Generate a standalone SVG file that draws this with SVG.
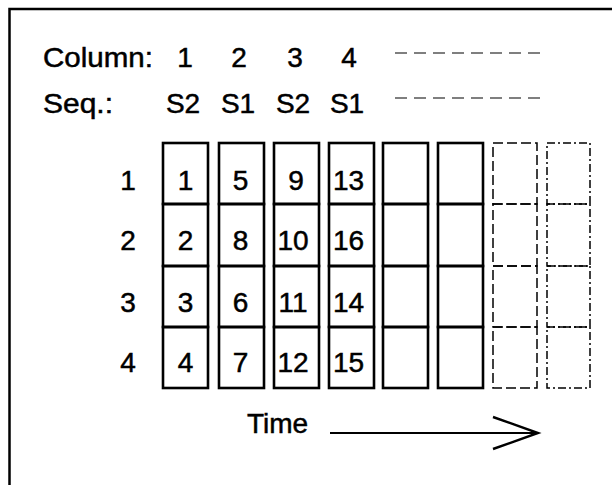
<svg xmlns="http://www.w3.org/2000/svg" width="612" height="485" viewBox="0 0 612 485">
<style>
text{font-family:"Liberation Sans",Arial,sans-serif;font-size:28px;fill:#000;stroke:#000;stroke-width:0.5}
.c{text-anchor:middle}
.cell{fill:none;stroke:#000;stroke-width:2.6}
.dash{fill:none;stroke:#000;stroke-width:1.5;stroke-dasharray:10 4}
.dashdot{fill:none;stroke:#000;stroke-width:1.5;stroke-dasharray:8 3 2 3}
.hd{stroke:#000;stroke-width:1.2;stroke-dasharray:12 7}
</style>
<rect width="612" height="485" fill="#fff"/>
<path d="M9.5 490 V9 H620" fill="none" stroke="#000" stroke-width="2.5"/>
<g id="header">
<text x="43" y="67" textLength="110" lengthAdjust="spacingAndGlyphs">Column:</text>
<text class="c" x="185" y="67">1</text>
<text class="c" x="239" y="67">2</text>
<text class="c" x="295" y="67">3</text>
<text class="c" x="349" y="67">4</text>
<line class="hd" x1="395" y1="53" x2="546" y2="53"/>
<text x="43" y="113" textLength="70" lengthAdjust="spacingAndGlyphs">Seq.:</text>
<text class="c" x="183" y="113">S2</text>
<text class="c" x="238" y="113">S1</text>
<text class="c" x="293" y="113">S2</text>
<text class="c" x="347" y="113">S1</text>
<line class="hd" x1="395" y1="98" x2="546" y2="98"/>
</g>
<g id="row-labels">
<text class="c" x="128" y="190">1</text>
<text class="c" x="128" y="250">2</text>
<text class="c" x="128" y="312">3</text>
<text class="c" x="128" y="372">4</text>
</g>
<g id="col1">
<rect class="cell" x="163" y="143" width="45" height="61"/>
<rect class="cell" x="163" y="204" width="45" height="62"/>
<rect class="cell" x="163" y="266" width="45" height="61"/>
<rect class="cell" x="163" y="327" width="45" height="61"/>
<text class="c" x="185.5" y="190">1</text>
<text class="c" x="185.5" y="250">2</text>
<text class="c" x="185.5" y="312">3</text>
<text class="c" x="185.5" y="372">4</text>
</g>
<g id="col2">
<rect class="cell" x="219" y="143" width="45" height="61"/>
<rect class="cell" x="219" y="204" width="45" height="62"/>
<rect class="cell" x="219" y="266" width="45" height="61"/>
<rect class="cell" x="219" y="327" width="45" height="61"/>
<text class="c" x="240.5" y="190">5</text>
<text class="c" x="240.5" y="250">8</text>
<text class="c" x="240.5" y="312">6</text>
<text class="c" x="240.5" y="372">7</text>
</g>
<g id="col3">
<rect class="cell" x="274" y="143" width="45" height="61"/>
<rect class="cell" x="274" y="204" width="45" height="62"/>
<rect class="cell" x="274" y="266" width="45" height="61"/>
<rect class="cell" x="274" y="327" width="45" height="61"/>
<text class="c" x="296" y="190">9</text>
<text class="c" x="293" y="250">10</text>
<text class="c" x="293" y="312">11</text>
<text class="c" x="293" y="372">12</text>
</g>
<g id="col4">
<rect class="cell" x="329" y="143" width="45" height="61"/>
<rect class="cell" x="329" y="204" width="45" height="62"/>
<rect class="cell" x="329" y="266" width="45" height="61"/>
<rect class="cell" x="329" y="327" width="45" height="61"/>
<text class="c" x="348.5" y="190">13</text>
<text class="c" x="348.5" y="250">16</text>
<text class="c" x="348.5" y="312">14</text>
<text class="c" x="348.5" y="372">15</text>
</g>
<g id="col5">
<rect class="cell" x="383" y="143" width="45" height="61"/>
<rect class="cell" x="383" y="204" width="45" height="62"/>
<rect class="cell" x="383" y="266" width="45" height="61"/>
<rect class="cell" x="383" y="327" width="45" height="61"/>
</g>
<g id="col6">
<rect class="cell" x="438" y="143" width="45" height="61"/>
<rect class="cell" x="438" y="204" width="45" height="62"/>
<rect class="cell" x="438" y="266" width="45" height="61"/>
<rect class="cell" x="438" y="327" width="45" height="61"/>
</g>
<g id="col7">
<rect class="dash" x="493" y="143" width="44" height="61"/>
<rect class="dash" x="493" y="204" width="44" height="62"/>
<rect class="dash" x="493" y="266" width="44" height="61"/>
<rect class="dash" x="493" y="327" width="44" height="61"/>
</g>
<g id="col8">
<rect class="dashdot" x="547" y="143" width="43" height="61"/>
<rect class="dashdot" x="547" y="204" width="43" height="62"/>
<rect class="dashdot" x="547" y="266" width="43" height="61"/>
<rect class="dashdot" x="547" y="327" width="43" height="61"/>
</g>
<g id="connectors">
<text x="247" y="433">Time</text>
<line x1="330" y1="433" x2="537" y2="433" stroke="#000" stroke-width="2"/>
<polyline points="493,417 538,433 493,449" fill="none" stroke="#000" stroke-width="2.4"/>
</g>
</svg>
